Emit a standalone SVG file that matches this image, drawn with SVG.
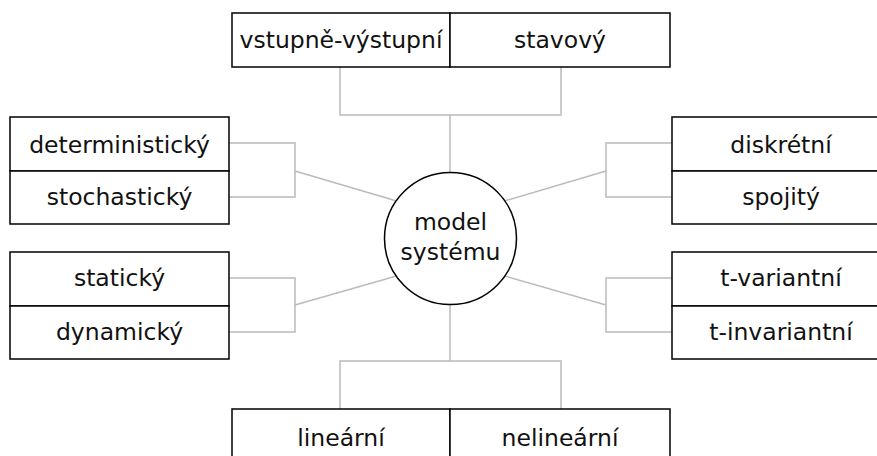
<svg xmlns="http://www.w3.org/2000/svg" width="877" height="456" viewBox="0 0 877 456">
  <style>
    .box { fill: #ffffff; stroke: #000000; stroke-width: 1.5; }
    .lbl { font-family: "DejaVu Sans", sans-serif; font-size: 23.5px; fill: #111111; text-anchor: middle; }
    .conn { fill: none; stroke: #bbbbbb; stroke-width: 1.5; }
    .hub { fill: #ffffff; stroke: #000000; stroke-width: 1.5; }
  </style>
  <rect width="877" height="456" fill="#ffffff"/>

  <!-- connectors -->
  <g id="connectors">
    <path class="conn" d="M340,67 V115 H561 V67 M450,115 V180"/>
    <path class="conn" d="M340,409 V361 H561 V409 M450,361 V300"/>
    <path class="conn" d="M229,143 H295 V197 H229 M295,171 L400,202"/>
    <path class="conn" d="M229,278 H295 V332 H229 M295,305 L400,275"/>
    <path class="conn" d="M672,143 H606 V197 H672 M606,171 L501,202"/>
    <path class="conn" d="M672,278 H606 V332 H672 M606,305 L501,275"/>
  </g>

  <!-- centre -->
  <g id="model-systemu">
    <circle class="hub" cx="450.5" cy="238.5" r="66"/>
    <text class="lbl" x="450.5" y="230">model</text>
    <text class="lbl" x="450.5" y="260">systému</text>
  </g>

  <!-- top pair -->
  <g id="vstupne-vystupni">
    <rect class="box" x="232" y="13" width="218" height="54"/>
    <text class="lbl" x="341" y="48">vstupně-výstupní</text>
  </g>
  <g id="stavovy">
    <rect class="box" x="450" y="13" width="220" height="54"/>
    <text class="lbl" x="560" y="48">stavový</text>
  </g>

  <!-- left upper pair -->
  <g id="deterministicky">
    <rect class="box" x="10" y="117" width="219" height="54"/>
    <text class="lbl" x="119.5" y="152.5">deterministický</text>
  </g>
  <g id="stochasticky">
    <rect class="box" x="10" y="171" width="219" height="53"/>
    <text class="lbl" x="119.5" y="205">stochastický</text>
  </g>

  <!-- left lower pair -->
  <g id="staticky">
    <rect class="box" x="10" y="252" width="219" height="54"/>
    <text class="lbl" x="119.5" y="285.5">statický</text>
  </g>
  <g id="dynamicky">
    <rect class="box" x="10" y="306" width="219" height="53"/>
    <text class="lbl" x="119.5" y="340">dynamický</text>
  </g>

  <!-- right upper pair -->
  <g id="diskretni">
    <rect class="box" x="672" y="117" width="218" height="54"/>
    <text class="lbl" x="781" y="152.5">diskrétní</text>
  </g>
  <g id="spojity">
    <rect class="box" x="672" y="171" width="218" height="53"/>
    <text class="lbl" x="781" y="205">spojitý</text>
  </g>

  <!-- right lower pair -->
  <g id="t-variantni">
    <rect class="box" x="672" y="252" width="218" height="54"/>
    <text class="lbl" x="781" y="285.5">t-variantní</text>
  </g>
  <g id="t-invariantni">
    <rect class="box" x="672" y="306" width="218" height="53"/>
    <text class="lbl" x="781" y="340">t-invariantní</text>
  </g>

  <!-- bottom pair -->
  <g id="linearni">
    <rect class="box" x="232" y="409" width="218" height="54"/>
    <text class="lbl" x="341" y="446">lineární</text>
  </g>
  <g id="nelinearni">
    <rect class="box" x="450" y="409" width="220" height="54"/>
    <text class="lbl" x="560" y="446">nelineární</text>
  </g>
</svg>
